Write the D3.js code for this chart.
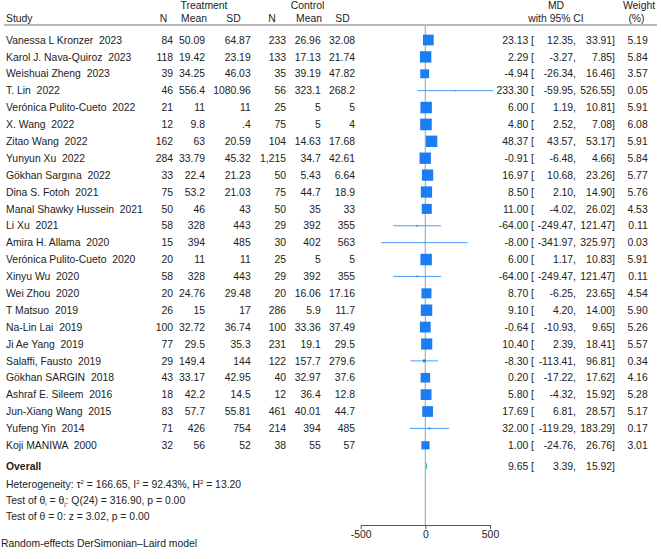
<!DOCTYPE html>
<html>
<head>
<meta charset="utf-8">
<script src="https://cdn.jsdelivr.net/npm/d3@7"></script>
<style>
  body { margin: 0; background: #fff; }
  text { font-family: "Liberation Sans", Arial, sans-serif; font-size: 10.4px; fill: #222; white-space: pre; }
</style>
</head>
<body>
<svg id="chart" width="661" height="559"></svg>
<script>
var studies = ["Vanessa L Kronzer  2023", "Karol J. Nava-Quiroz  2023", "Weishuai Zheng  2023", "T. Lin  2022",
  "Verónica Pulito-Cueto  2022", "X. Wang  2022", "Zitao Wang  2022", "Yunyun Xu  2022", "Gökhan Sargına  2022",
  "Dina S. Fotoh  2021", "Manal Shawky Hussein  2021", "Li Xu  2021", "Amira H. Allama  2020",
  "Verónica Pulito-Cueto  2020", "Xinyu Wu  2020", "Wei Zhou  2020", "T Matsuo  2019", "Na-Lin Lai  2019",
  "Ji Ae Yang  2019", "Salaffi, Fausto  2019", "Gökhan SARGIN  2018", "Ashraf E. Sileem  2016",
  "Jun-Xiang Wang  2015", "Yufeng Yin  2014", "Koji MANIWA  2000"];
var tN    = ["84","118","39","46","21","12","162","284","33","75","50","58","15","20","58","20","26","100","77","29","43","18","83","71","32"];
var tMean = ["50.09","19.42","34.25","556.4","11","9.8","63","33.79","22.4","53.2","46","328","394","11","328","24.76","15","32.72","29.5","149.4","33.17","42.2","57.7","426","56"];
var tSD   = ["64.87","23.19","46.03","1080.96","11",".4","20.59","45.32","21.23","21.03","43","443","485","11","443","29.48","17","36.74","35.3","144","42.95","14.5","55.81","754","52"];
var cN    = ["233","133","35","56","25","75","104","1,215","50","75","50","29","30","25","29","20","286","100","231","122","40","12","461","214","38"];
var cMean = ["26.96","17.13","39.19","323.1","5","5","14.63","34.7","5.43","44.7","35","392","402","5","392","16.06","5.9","33.36","19.1","157.7","32.97","36.4","40.01","394","55"];
var cSD   = ["32.08","21.74","47.82","268.2","5","4","17.68","42.61","6.64","18.9","33","355","563","5","355","17.16","11.7","37.49","29.5","279.6","37.6","12.8","44.7","485","57"];
var md    = [23.13, 2.29, -4.94, 233.30, 6.00, 4.80, 48.37, -0.91, 16.97, 8.50, 11.00, -64.00, -8.00, 6.00, -64.00, 8.70, 9.10, -0.64, 10.40, -8.30, 0.20, 5.80, 17.69, 32.00, 1.00];
var lo    = [12.35, -3.27, -26.34, -59.95, 1.19, 2.52, 43.57, -6.48, 10.68, 2.10, -4.02, -249.47, -341.97, 1.17, -249.47, -6.25, 4.20, -10.93, 2.39, -113.41, -17.22, -4.32, 6.81, -119.29, -24.76];
var hi    = [33.91, 7.85, 16.46, 526.55, 10.81, 7.08, 53.17, 4.66, 23.26, 14.90, 26.02, 121.47, 325.97, 10.83, 121.47, 23.65, 14.00, 9.65, 18.41, 96.81, 17.62, 15.92, 28.57, 183.29, 26.76];
var weight = [5.19, 5.84, 3.57, 0.05, 5.91, 6.08, 5.91, 5.84, 5.77, 5.76, 4.53, 0.11, 0.03, 5.91, 0.11, 4.54, 5.90, 5.26, 5.57, 0.34, 4.16, 5.28, 5.17, 0.17, 3.01];
var overall = [9.65, 3.39, 15.92];
var xTicks = [-500, 0, 500];

var svg = d3.select("#chart");
function f2(d) { return d.toFixed(2); } // plain hyphen minus, like the original

var x = d3.scaleLinear().domain([-500, 500]).range([360.7, 490]);
var y = d3.scaleLinear().domain([0, 24]).range([40, 445.3]);
var size = d3.scaleSqrt().domain([0, d3.max(weight)]).range([0, 11.6]);

// header
var head = svg.append("g");
function htxt(t, cx, cy, anchor) {
  head.append("text").attr("x", cx).attr("y", cy).attr("dy", "0.35em")
    .attr("text-anchor", anchor || "middle").text(t);
}
htxt("Treatment", 204, 5);
htxt("Control", 307.5, 5);
htxt("MD", 556, 5);
htxt("Weight", 639, 5);
htxt("Study", 6, 18, "start");
htxt("N", 163.5, 18);
htxt("Mean", 194, 18);
htxt("SD", 233.5, 18);
htxt("N", 272, 18);
htxt("Mean", 309, 18);
htxt("SD", 342.5, 18);
htxt("with 95% CI", 556, 18);
htxt("(%)", 636.5, 18);

svg.append("line").attr("x1", 4).attr("x2", 657).attr("y1", 25).attr("y2", 25)
  .attr("stroke", "#777").attr("stroke-width", 1.2);

// zero line
svg.append("line").attr("x1", x(0)).attr("x2", x(0)).attr("y1", 26).attr("y2", 525)
  .attr("stroke", "#b4b4b4").attr("stroke-width", 1.3);

// table columns
var cols = [
  { vals: tN, x: 173 }, { vals: tMean, x: 205 }, { vals: tSD, x: 250.7 },
  { vals: cN, x: 286 }, { vals: cMean, x: 320.7 }, { vals: cSD, x: 355 },
  { vals: md.map(function(d) { return f2(d) + " ["; }), x: 534 },
  { vals: lo.map(function(d) { return f2(d) + ","; }), x: 576 },
  { vals: hi.map(function(d) { return f2(d) + "]"; }), x: 615 },
  { vals: weight.map(f2), x: 647.7 }
];

var rows = svg.append("g").selectAll("g").data(studies).enter().append("g")
  .attr("transform", function(d, i) { return "translate(0," + y(i) + ")"; });

rows.append("text").attr("x", 6).attr("dy", "0.35em").text(function(d) { return d; });
cols.forEach(function(c) {
  rows.append("text").attr("x", c.x).attr("dy", "0.35em").attr("text-anchor", "end")
    .text(function(d, i) { return c.vals[i]; });
});

// CI lines and squares
rows.append("line")
  .attr("x1", function(d, i) { return x(lo[i]); })
  .attr("x2", function(d, i) { return x(hi[i]); })
  .attr("stroke", "#4a9cf5").attr("stroke-width", 1);
rows.append("rect")
  .attr("x", function(d, i) { return x(md[i]) - size(weight[i]) / 2; })
  .attr("y", function(d, i) { return -size(weight[i]) / 2; })
  .attr("width", function(d, i) { return size(weight[i]); })
  .attr("height", function(d, i) { return size(weight[i]); })
  .attr("fill", "#1a7ef2");

// overall
var oy = 466;
svg.append("text").attr("x", 6).attr("y", oy).attr("dy", "0.35em")
  .attr("font-weight", "bold").text("Overall");
svg.append("path")
  .attr("d", "M" + x(overall[1]) + "," + oy + "L" + x(overall[0]) + "," + (oy - 4) +
    "L" + x(overall[2]) + "," + oy + "L" + x(overall[0]) + "," + (oy + 4) + "Z")
  .attr("fill", "#2fca8c");
[[f2(overall[0]) + " [", 534], [f2(overall[1]) + ",", 576], [f2(overall[2]) + "]", 615]].forEach(function(p) {
  svg.append("text").attr("x", p[1]).attr("y", oy).attr("dy", "0.35em")
    .attr("text-anchor", "end").text(p[0]);
});

// stats lines
var het = svg.append("text").attr("x", 6).attr("y", 484).attr("dy", "0.35em");
het.append("tspan").text("Heterogeneity: τ");
het.append("tspan").attr("font-size", "6px").attr("dy", "-4").text("2");
het.append("tspan").attr("dy", "4").text(" = 166.65, I");
het.append("tspan").attr("font-size", "6px").attr("dy", "-4").text("2");
het.append("tspan").attr("dy", "4").text(" = 92.43%, H");
het.append("tspan").attr("font-size", "6px").attr("dy", "-4").text("2");
het.append("tspan").attr("dy", "4").text(" = 13.20");

var q = svg.append("text").attr("x", 6).attr("y", 500).attr("dy", "0.35em");
q.append("tspan").text("Test of θ");
q.append("tspan").attr("font-size", "6px").attr("dy", "2").text("i");
q.append("tspan").attr("dy", "-2").text(" = θ");
q.append("tspan").attr("font-size", "6px").attr("dy", "2").text("j");
q.append("tspan").attr("dy", "-2").text(": Q(24) = 316.90, p = 0.00");

svg.append("text").attr("x", 6).attr("y", 516).attr("dy", "0.35em")
  .text("Test of θ = 0: z = 3.02, p = 0.00");

svg.append("text").attr("x", 1).attr("y", 543).attr("dy", "0.35em")
  .text("Random-effects DerSimonian–Laird model");

// axis
var ax = svg.append("g").attr("transform", "translate(0,525)")
  .call(d3.axisBottom(x).tickValues(xTicks).tickSize(4).tickSizeOuter(0)
    .tickFormat(function(d) { return String(d); }));
ax.select(".domain").attr("stroke", "#555");
ax.selectAll(".tick line").attr("stroke", "#555");
ax.selectAll(".tick text").attr("font-family", "Liberation Sans, Arial, sans-serif")
  .attr("font-size", "10.4px").attr("fill", "#222").attr("y", 6);
</script>
</body>
</html>
